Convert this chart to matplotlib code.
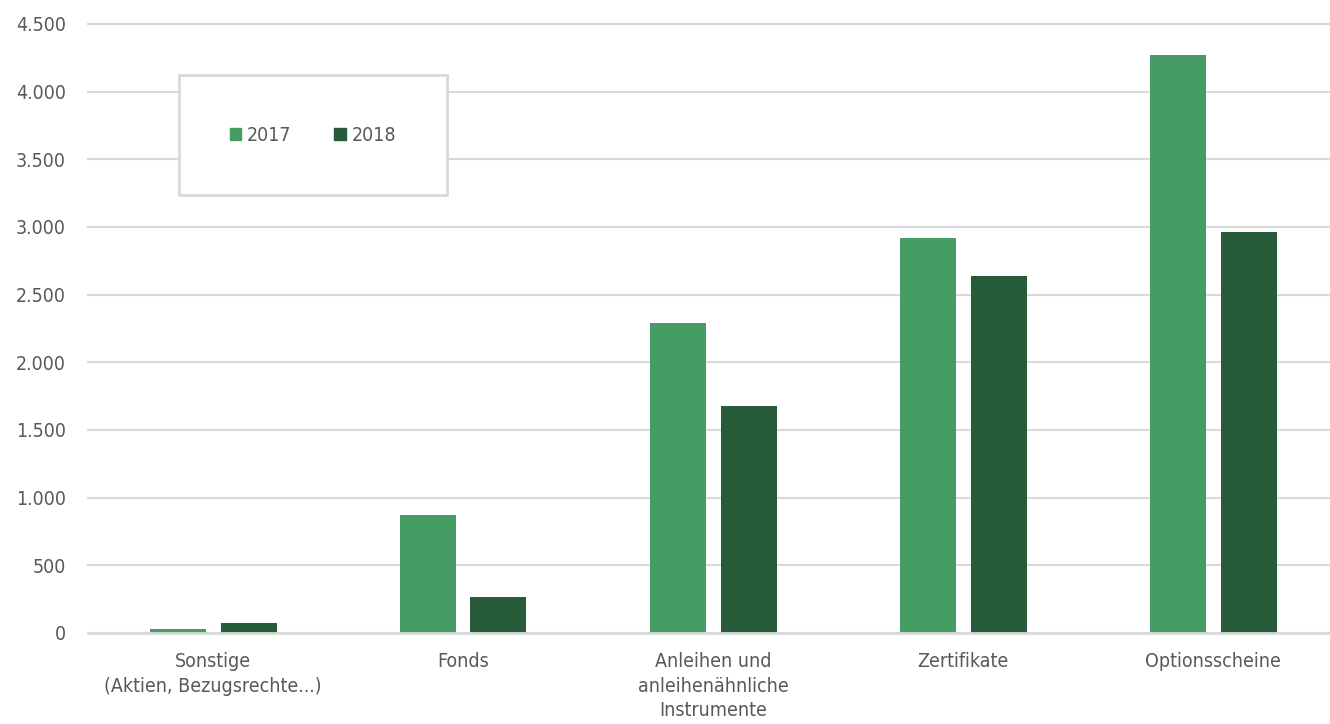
import numpy as np
import matplotlib.pyplot as plt
from matplotlib.patches import Patch
from matplotlib.ticker import FuncFormatter

## plotting defaults
plt.rcParams['font.family'] = ['DejaVu Sans']
plt.rcParams['font.stretch'] = 'condensed'
plt.rcParams['font.size'] = 14

categories = ['Sonstige\n(Aktien, Bezugsrechte...)', 'Fonds',
              'Anleihen und\nanleihenähnliche\nInstrumente', 'Zertifikate', 'Optionsscheine']
vals_2017 = [30, 875, 2290, 2920, 4270]
vals_2018 = [72, 265, 1680, 2638, 2965]
series_labels = ['2017', '2018']
yticks = [0, 500, 1000, 1500, 2000, 2500, 3000, 3500, 4000, 4500]

col_2017 = '#459D65'
col_2018 = '#285B3A'
col_grid = '#D9D9D9'
col_text = '#595959'

fig = plt.figure(figsize=(13.3, 7.24), dpi=100)
ax = fig.add_axes([88/1330, 91/724, 1 - 88/1330, 609/724])

x = np.arange(len(categories))
bw = .224
off = .142
ax.bar(x - off, vals_2017, bw, color=col_2017, zorder=2)
ax.bar(x + off, vals_2018, bw, color=col_2018, zorder=2)

ax.set_xlim(-.5, 4.468)
ax.set_ylim(0, 4500)
ax.set_yticks(yticks)
ax.yaxis.set_major_formatter(FuncFormatter(lambda v, p: '{:,.0f}'.format(v).replace(',', '.')))
ax.set_xticks(x)
ax.set_xticklabels(categories, linespacing=1.35)
ax.grid(axis='y', color=col_grid, lw=1.5, zorder=0)
for gl in ax.get_ygridlines():
    gl.set_clip_on(False)
ax.tick_params(axis='both', length=0, colors=col_text, labelsize=14)
ax.tick_params(axis='y', pad=16)
ax.tick_params(axis='x', pad=14)
for s in ['top', 'right', 'left']:
    ax.spines[s].set_visible(False)
ax.spines['bottom'].set_color(col_grid)
ax.spines['bottom'].set_linewidth(2)

handles = [Patch(color=col_2017), Patch(color=col_2018)]
leg = ax.legend(handles, series_labels, loc='upper left', ncol=2,
                bbox_to_anchor=(179/1330, 1 - 75/724), bbox_transform=fig.transFigure,
                borderaxespad=0, borderpad=2.6, handlelength=.6, handleheight=.6,
                handletextpad=.3, columnspacing=2.2, fancybox=False, framealpha=1,
                labelcolor=col_text, fontsize=14)
leg.get_frame().set_edgecolor(col_grid)
leg.get_frame().set_linewidth(2)

fig.savefig('out.png', dpi=100)
